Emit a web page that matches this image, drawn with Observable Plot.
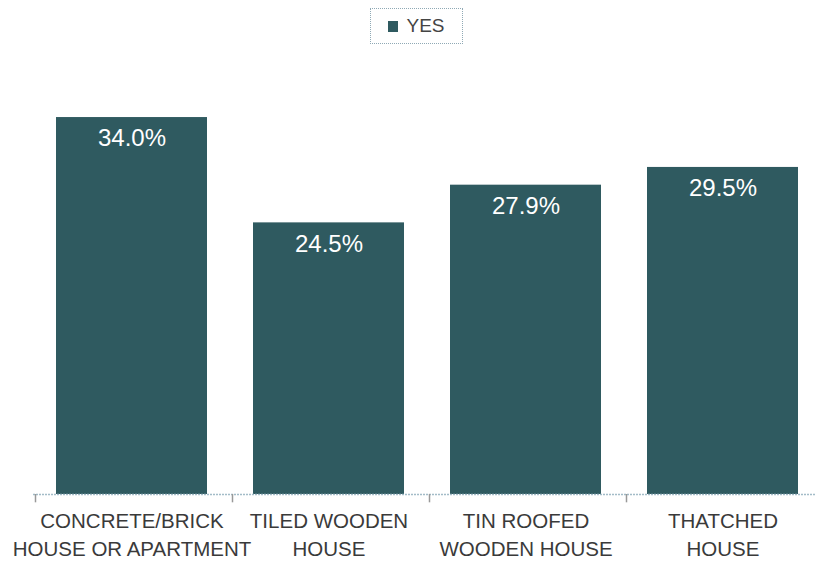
<!DOCTYPE html>
<html>
<head>
<meta charset="utf-8">
<script src="https://cdn.jsdelivr.net/npm/d3@7"></script>
<script src="https://cdn.jsdelivr.net/npm/@observablehq/plot@0.6"></script>
<style>
  html, body { margin: 0; padding: 0; background: #fff; overflow: hidden; }
  body { width: 815px; height: 562px; font-family: "Liberation Sans", Arial, sans-serif; }
  #legend { height: 52px; position: relative; }
  #legend .box {
    position: absolute; left: 370px; top: 8px; width: 93px; height: 36px;
    border: 1px dotted #8fa9b5; box-sizing: border-box;
    display: flex; align-items: center; justify-content: center; gap: 8px;
    font-size: 19px; color: #444;
  }
  #legend .sw { width: 10px; height: 11px; background: #2f5a60; display: inline-block; }
</style>
</head>
<body>
<div id="legend"></div>
<div id="chart"></div>
<script>
const categories = ["CONCRETE/BRICK\nHOUSE OR APARTMENT", "TILED WOODEN\nHOUSE", "TIN ROOFED\nWOODEN HOUSE", "THATCHED\nHOUSE"];
const yesValues = [34.0, 24.5, 27.9, 29.5];
const seriesName = "YES";
const barColor = "#2f5a60";

const data = categories.map((c, i) => ({category: c, value: yesValues[i]}));

document.getElementById("legend").innerHTML =
  `<div class="box"><span class="sw"></span><span>${seriesName}</span></div>`;

const width = 815, height = 510;
const marginLeft = 35, marginRight = -8;
const bandStep = (width - marginRight - marginLeft) / categories.length;

const chart = Plot.plot({
  width, height,
  marginLeft, marginRight,
  marginTop: 20.7,
  marginBottom: 68,
  style: {fontFamily: "'Liberation Sans', Arial, sans-serif", background: "#fff"},
  x: {domain: categories, padding: 0, axis: null},
  y: {domain: [0, 38], axis: null},
  marks: [
    Plot.barY(data, {x: "category", y: "value", fill: barColor, insetLeft: 21, insetRight: 25}),
    Plot.ruleY([0], {stroke: "#a3bcc8", strokeWidth: 1.5, strokeDasharray: "2,1", dx: -2}),
    Plot.ruleX(categories, {x: d => d, dx: -bandStep / 2, y1: 0, y2: -0.75, stroke: "#999", strokeWidth: 1.5}),
    Plot.text(data, {x: "category", y: "value", text: d => d.value.toFixed(1) + "%", dy: 21, dx: -2, fill: "white", fontSize: 24, lineAnchor: "middle"}),
    Plot.text(data, {x: "category", y: 0, text: "category", lineAnchor: "top", dy: 14, dx: -2, fontSize: 20.5, lineHeight: 1.36, fill: "#3a3a3a"})
  ]
});
chart.style.overflow = "visible";
document.getElementById("chart").append(chart);
</script>
</body>
</html>
